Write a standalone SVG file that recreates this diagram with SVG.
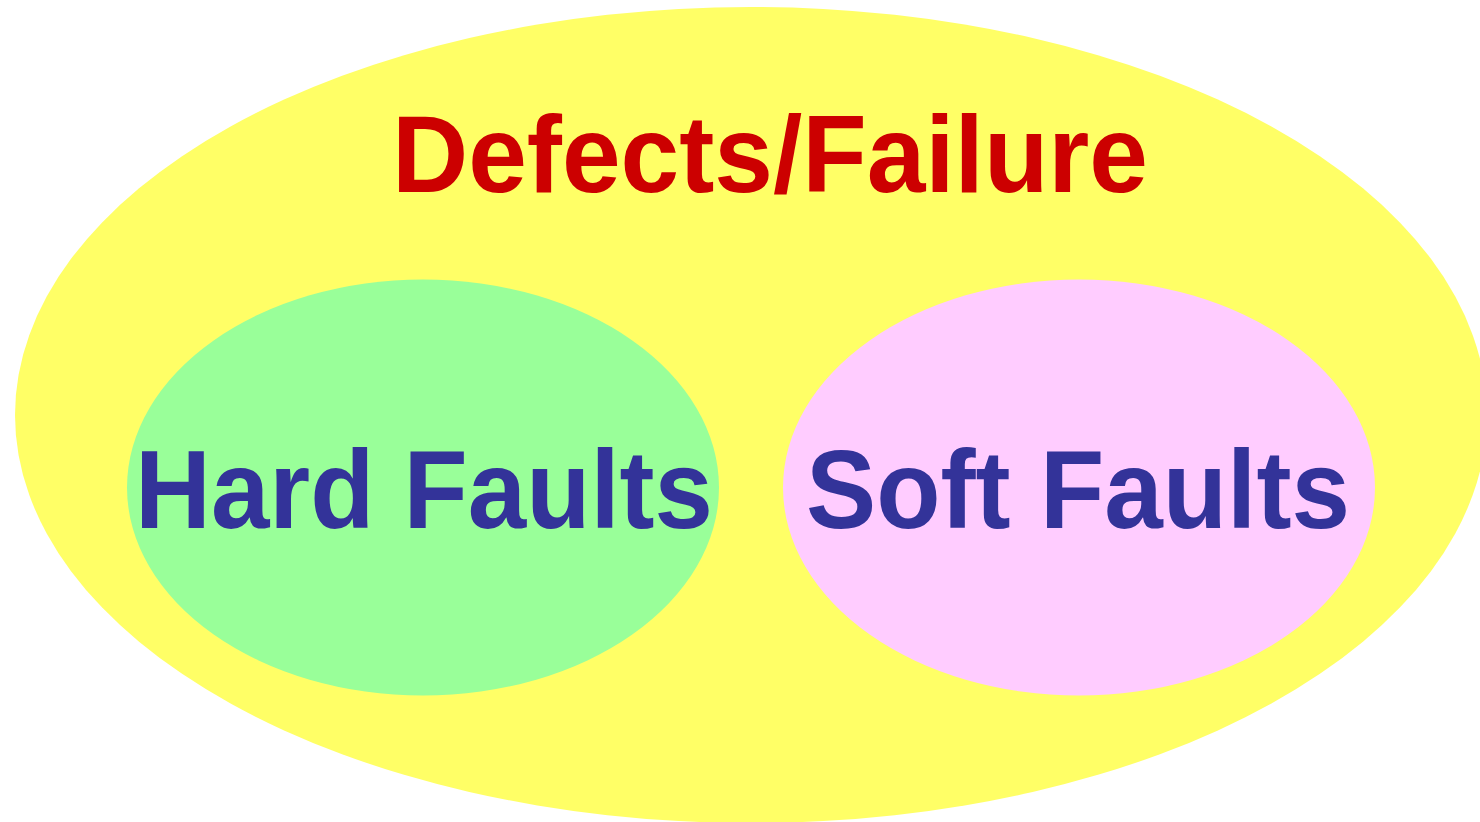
<svg xmlns="http://www.w3.org/2000/svg" width="1480" height="822" viewBox="0 0 1480 822">
<style>
.t{font-family:"Liberation Sans",Arial,Helvetica,sans-serif;font-weight:bold;text-anchor:middle}
.red{fill:#CC0000}
.blue{fill:#333399}
</style>
<rect width="1480" height="822" fill="#ffffff"/>
<g id="defects">
<ellipse cx="751" cy="415" rx="736" ry="408" fill="#FFFF66"/>
<text class="t red" x="770" y="192" font-size="110" textLength="756" lengthAdjust="spacingAndGlyphs">Defects/Failure</text>
</g>
<g id="hard">
<ellipse cx="423" cy="487.5" rx="296" ry="208" fill="#99FF99"/>
<text class="t blue" x="424" y="528" font-size="111" textLength="578" lengthAdjust="spacingAndGlyphs">Hard Faults</text>
</g>
<g id="soft">
<ellipse cx="1079" cy="487.5" rx="296" ry="208" fill="#FFCCFF"/>
<text class="t blue" x="1078" y="528" font-size="111" textLength="544" lengthAdjust="spacingAndGlyphs">Soft Faults</text>
</g>
<g id="connectors"/>
</svg>
